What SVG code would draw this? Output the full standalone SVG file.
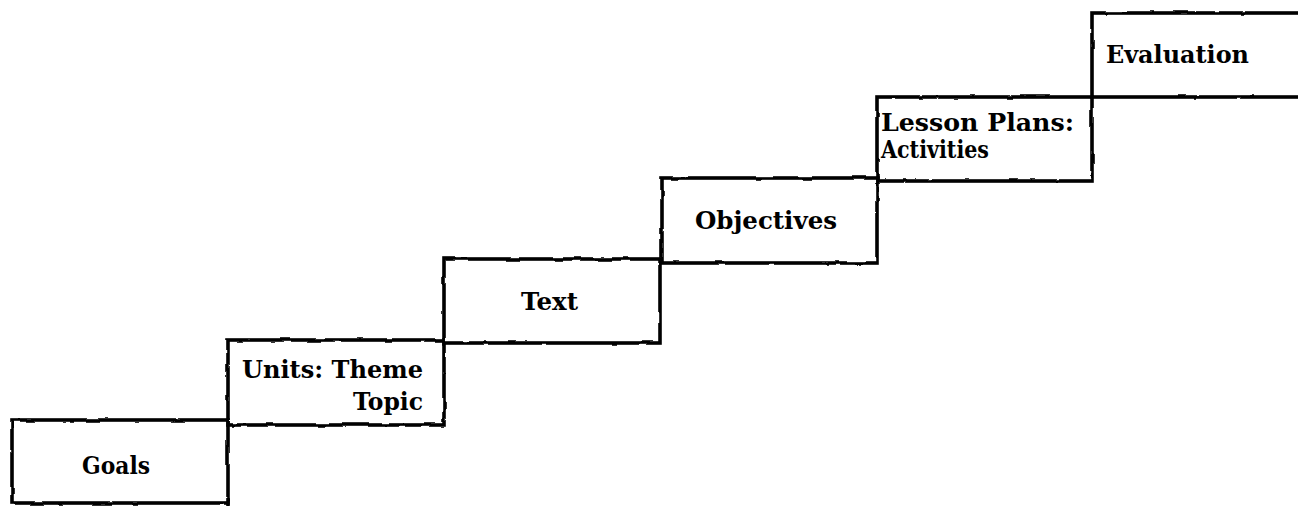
<svg xmlns="http://www.w3.org/2000/svg" width="1298" height="506" viewBox="0 0 1298 506">
<defs>
<filter id="rough" x="-5%" y="-10%" width="110%" height="120%">
<feTurbulence type="fractalNoise" baseFrequency="0.06" numOctaves="2" seed="3" result="n"/>
<feDisplacementMap in="SourceGraphic" in2="n" scale="3" xChannelSelector="R" yChannelSelector="G"/>
</filter>
</defs>
<style>
.box{fill:none;stroke:#000;stroke-width:3.6;stroke-linejoin:miter;filter:url(#rough)}
.ln{stroke:#000;stroke-width:3.6;fill:none}
.t{font-family:"DejaVu Serif","Liberation Serif",serif;font-weight:bold;font-size:24px;fill:#000}
</style>
<rect width="1298" height="506" fill="#fff"/>
<g id="connectors">
<line class="ln" x1="228" y1="498" x2="228" y2="506"/>
</g>
<g id="goals">
<rect class="box" x="12" y="420" width="216" height="83"/>
<text class="t" x="82" y="474" textLength="68" lengthAdjust="spacingAndGlyphs">Goals</text>
</g>
<g id="units">
<rect class="box" x="228" y="340" width="216" height="85"/>
<text class="t" x="242" y="378" textLength="181" lengthAdjust="spacingAndGlyphs">Units: Theme</text>
<text class="t" x="353" y="410" textLength="70" lengthAdjust="spacingAndGlyphs">Topic</text>
</g>
<g id="text">
<rect class="box" x="444" y="259" width="216" height="84"/>
<text class="t" x="521" y="310" textLength="57" lengthAdjust="spacingAndGlyphs">Text</text>
</g>
<g id="objectives">
<rect class="box" x="662" y="178" width="215" height="85"/>
<text class="t" x="695" y="229" textLength="142" lengthAdjust="spacingAndGlyphs">Objectives</text>
</g>
<g id="lesson-plans">
<rect class="box" x="877" y="97" width="215" height="84"/>
<text class="t" x="881" y="131" textLength="193" lengthAdjust="spacingAndGlyphs">Lesson Plans:</text>
<text class="t" x="881" y="158" textLength="108" lengthAdjust="spacingAndGlyphs">Activities</text>
</g>
<g id="evaluation">
<rect class="box" x="1092" y="13" width="220" height="84"/>
<text class="t" x="1106" y="63" textLength="143" lengthAdjust="spacingAndGlyphs">Evaluation</text>
</g>
</svg>
